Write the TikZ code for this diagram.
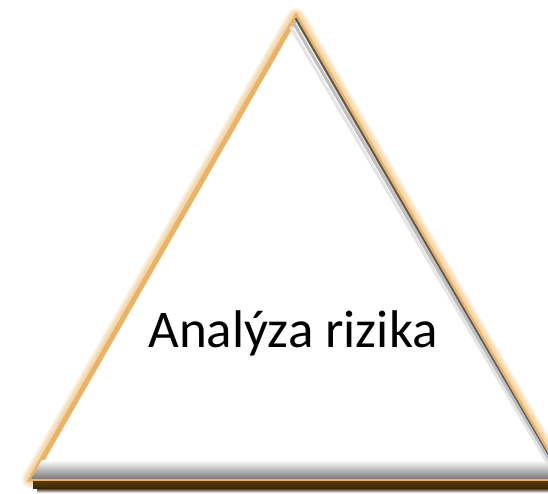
\documentclass[tikz,border=0pt]{standalone}
\usepackage{fontspec}
\setmainfont{Carlito}
\usetikzlibrary{calc}
\definecolor{rimgold}{HTML}{E9B46A}
\definecolor{glowgold}{HTML}{F0C584}
\definecolor{rimbrown}{HTML}{5A3808}
\tikzset{
  glow/.style={draw=glowgold, line width=#1, line join=round, opacity=0.28},
  rim/.style={draw=rimgold, line width=5pt, line join=miter},
  label/.style={font=\fontsize{53}{60}\selectfont, text=black, anchor=base}
}
\begin{document}
\begin{tikzpicture}[x=1pt,y=-1pt]
\useasboundingbox (0,0) rectangle (548,493);
\clip (0,0) rectangle (548,493);
\coordinate (apex) at (296,17);
\coordinate (bl) at (31,479);
\coordinate (br) at (563,479);
% soft glow round the rim
\foreach \w in {18,14,11,8}
  \draw[glow=\w pt] (apex) -- (bl) -- (br) -- cycle;
\filldraw[rim, fill=white] (apex) -- (bl) -- (br) -- cycle;
% inner shadows
\begin{scope}
  \clip (apex) -- (bl) -- (br) -- cycle;
  \shade[top color=white, bottom color=black!50] (0,460) rectangle (548,478);
  \draw[black!65, line width=3pt] ($(apex)+(0,1)$) -- (br);
  \draw[black!25, line width=3pt] ($(apex)+(-3,5)$) -- ($(br)+(-3,0)$);
  \draw[black!10, line width=3pt] ($(apex)+(-6,9)$) -- ($(br)+(-6,0)$);
\end{scope}
% dark lower rim
\shade[top color=rimbrown, bottom color=rimbrown!70!black] ($(bl)+(2,2)$) rectangle (548,488);
\shade[top color=rimbrown!60!black, bottom color=white] ($(bl)+(6,9)$) rectangle (548,493);
\node[label] (title) at (293,347) {Analýza rizika};
\end{tikzpicture}
\end{document}
